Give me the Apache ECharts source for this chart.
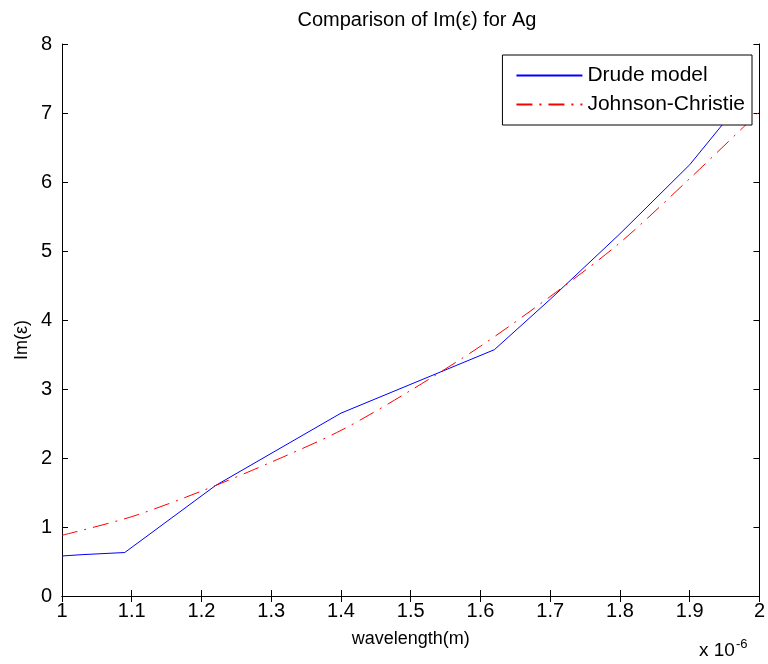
<!DOCTYPE html>
<html>
<head>
<meta charset="utf-8">
<script src="https://cdn.jsdelivr.net/npm/echarts@6/dist/echarts.min.js"></script>
<style>
  html, body { margin: 0; padding: 0; background: #fff; }
  #chart { width: 768px; height: 664px; }
</style>
</head>
<body>
<div id="chart"></div>
<script>
// wavelength in units of 1e-6 m
var drudeX = [1.00, 1.03, 1.09, 1.22, 1.40, 1.62, 1.70, 1.80, 1.90, 1.95];
var drudeY = [0.58, 0.60, 0.63, 1.60, 2.65, 3.57, 4.30, 5.25, 6.25, 6.87];

var jcX = [1.0, 1.1, 1.2, 1.3, 1.4, 1.5, 1.6, 1.7, 1.8, 1.9, 2.0];
var jcY = [0.88, 1.15, 1.52, 1.94, 2.40, 2.98, 3.62, 4.34, 5.12, 6.05, 7.02];

var seriesNames = ['Drude model', 'Johnson-Christie'];

var font = '"Liberation Sans Narrow", "Liberation Sans", Arial, sans-serif';

function pairs(xs, ys) {
    var out = [], i = 0;
    for (i; i < xs.length; i++) {
        out.push([xs[i], ys[i]]);
    }
    return out;
}

var chart = echarts.init(document.getElementById('chart'));

var tickFmt = function (v) { return String(parseFloat(v.toFixed(2))); };

var option = {
    backgroundColor: '#fff',
    animation: false,
    title: {
        text: 'Comparison of Im(\u03b5) for Ag',
        left: 412,
        textAlign: 'center',
        top: 5,
        textStyle: { fontFamily: font, fontSize: 20, fontWeight: 'normal', color: '#000' }
    },
    legend: {
        data: seriesNames,
        orient: 'vertical',
        right: 16,
        top: 55,
        z: 10,
        backgroundColor: '#fff',
        borderColor: '#000',
        borderWidth: 1,
        borderRadius: 0,
        padding: [10, 7, 10, 13],
        itemWidth: 66,
        itemHeight: 14,
        itemGap: 8,
        itemStyle: { opacity: 0 },
        textStyle: { fontFamily: font, fontSize: 21, lineHeight: 20, color: '#000' }
    },
    grid: { left: 62, right: 6, top: 44, bottom: 68 },
    xAxis: [
        {
            type: 'value',
            min: 1, max: 2, interval: 0.1,
            name: 'wavelength(m)',
            nameLocation: 'middle',
            nameGap: 34,
            nameTextStyle: { fontFamily: font, fontSize: 18, color: '#000' },
            axisLine: { show: true, lineStyle: { color: '#000', width: 1 } },
            axisTick: { show: true, inside: true, length: 6, lineStyle: { color: '#000' } },
            axisLabel: { fontFamily: font, fontSize: 20, color: '#000', margin: 5, formatter: tickFmt },
            splitLine: { show: false }
        },
        {
            type: 'value',
            position: 'top',
            min: 1, max: 2, interval: 0.1,
            axisLine: { show: true, lineStyle: { color: '#000', width: 1 } },
            axisTick: { show: true, inside: true, length: 6, lineStyle: { color: '#000' } },
            axisLabel: { show: false },
            splitLine: { show: false }
        }
    ],
    yAxis: [
        {
            type: 'value',
            min: 0, max: 8, interval: 1,
            axisLine: { show: true, lineStyle: { color: '#000', width: 1 } },
            axisTick: { show: true, inside: true, length: 6, lineStyle: { color: '#000' } },
            axisLabel: { fontFamily: font, fontSize: 20, color: '#000', margin: 10 },
            splitLine: { show: false }
        },
        {
            type: 'value',
            position: 'right',
            min: 0, max: 8, interval: 1,
            axisLine: { show: true, lineStyle: { color: '#000', width: 1 } },
            axisTick: { show: true, inside: true, length: 6, lineStyle: { color: '#000' } },
            axisLabel: { show: false },
            splitLine: { show: false }
        }
    ],
    graphic: [
        {
            type: 'text',
            x: 22,
            y: 340,
            rotation: Math.PI / 2,
            style: {
                text: 'Im(\u03b5)',
                fontFamily: font,
                fontSize: 18,
                fill: '#000',
                align: 'center',
                verticalAlign: 'middle'
            }
        },
        {
            type: 'text',
            left: 699,
            top: 638,
            style: {
                text: 'x 10{sup|-6}',
                fontFamily: font,
                fontSize: 19,
                fill: '#000',
                rich: {
                    sup: { fontFamily: font, fontSize: 13, verticalAlign: 'top', padding: [0, 0, 12, 1] }
                }
            }
        }
    ],
    series: [
        {
            name: seriesNames[0],
            type: 'line',
            symbol: 'none',
            color: '#0000ff',
            lineStyle: { color: '#0000ff', width: 1 },
            data: pairs(drudeX, drudeY)
        },
        {
            name: seriesNames[1],
            type: 'line',
            symbol: 'none',
            smooth: 0.3,
            color: '#ff0000',
            lineStyle: { color: '#ff0000', width: 1, type: [16, 7, 2, 7] },
            data: pairs(jcX, jcY)
        }
    ]
};

chart.setOption(option);
</script>
</body>
</html>
